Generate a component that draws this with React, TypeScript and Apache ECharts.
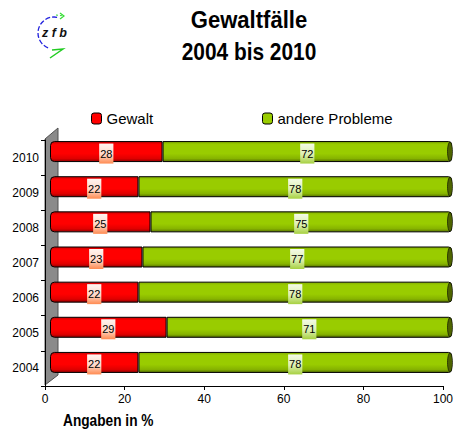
import React, { useEffect, useRef } from 'react';
import * as echarts from 'echarts';

const years = ['2004', '2005', '2006', '2007', '2008', '2009', '2010'];
const gewalt = [22, 29, 22, 23, 25, 22, 28];
const andere = [78, 71, 78, 77, 75, 78, 72];
const seriesNames = ['Gewalt', 'andere Probleme'];
const titleLines = ['Gewaltfälle', '2004 bis 2010'];
const axisName = 'Angaben in %';
const logoText = 'z f b';

export default function App() {
  const ref = useRef<HTMLDivElement>(null);
  useEffect(() => {
    const chart = echarts.init(ref.current!, null, { renderer: 'svg' });
    const LG = echarts.graphic.LinearGradient;
    const sans = "'Liberation Sans', Arial, sans-serif";

    const redGrad = new LG(0, 0, 0, 1, [
      { offset: 0, color: '#c80000' },
      { offset: 0.15, color: '#ff0000' },
      { offset: 0.6, color: '#ff0000' },
      { offset: 0.85, color: '#e00000' },
      { offset: 1, color: '#900000' },
    ]);
    const greenGrad = new LG(0, 0, 0, 1, [
      { offset: 0, color: '#82ad00' },
      { offset: 0.15, color: '#99cc00' },
      { offset: 0.6, color: '#99cc00' },
      { offset: 0.85, color: '#86b300' },
      { offset: 1, color: '#556f00' },
    ]);
    const redLabelBg = new LG(0, 0, 0, 1, [
      { offset: 0, color: '#fff4f0' },
      { offset: 0.55, color: '#ffd8c8' },
      { offset: 1, color: '#ff8a50' },
    ]);
    const greenLabelBg = new LG(0, 0, 0, 1, [
      { offset: 0, color: '#f4fbe8' },
      { offset: 0.55, color: '#dcefb0' },
      { offset: 1, color: '#a6d040' },
    ]);

    const labelCommon = {
      show: true,
      position: 'inside',
      formatter: '{c}',
      fontSize: 11,
      fontFamily: sans,
      color: '#000',
      padding: [5, 1, 4, 1],
      offset: [0, 2],
    };

    const option = {
      animation: false,
      legend: [
        {
          data: [{ name: seriesNames[0], itemStyle: { color: '#ff0000', borderColor: '#000', borderWidth: 1 } }],
          left: 86, top: 106, itemWidth: 10, itemHeight: 11, itemGap: 4, selectedMode: false,
          textStyle: { fontSize: 15, color: '#000', fontFamily: sans },
        },
        {
          data: [{ name: seriesNames[1], itemStyle: { color: '#99cc00', borderColor: '#000', borderWidth: 1 } }],
          left: 257, top: 106, itemWidth: 10, itemHeight: 11, itemGap: 4, selectedMode: false,
          textStyle: { fontSize: 15, color: '#000', fontFamily: sans },
        },
      ],
      grid: [
        { left: 45, top: 140, width: 402, height: 246 },
        { left: 50, top: 134, width: 402, height: 246 },
      ],
      xAxis: [
        {
          type: 'value', gridIndex: 0, min: 0, max: 100, interval: 20,
          axisLine: { show: true, lineStyle: { color: '#000', width: 1 } },
          axisTick: { show: true, length: 4, lineStyle: { color: '#000' } },
          axisLabel: { fontSize: 12, color: '#000', margin: 7, fontFamily: sans },
          splitLine: { show: false },
        },
        { type: 'value', gridIndex: 1, min: 0, max: 100, show: false },
      ],
      yAxis: [
        {
          type: 'category', gridIndex: 0, data: years,
          axisLine: { show: true, lineStyle: { color: '#000', width: 1 } },
          axisTick: { show: true, length: 4, lineStyle: { color: '#000' } },
          axisLabel: { fontSize: 12, color: '#000', margin: 6, fontFamily: sans },
        },
        { type: 'category', gridIndex: 1, data: years, show: false },
      ],
      graphic: [
        {
          type: 'text', x: 249, y: 20, scaleX: 0.92,
          style: { text: titleLines[0], fontSize: 24, fontWeight: 'bold', fill: '#000', fontFamily: sans, align: 'center', verticalAlign: 'middle' },
        },
        {
          type: 'text', x: 249, y: 52, scaleX: 0.87,
          style: { text: titleLines[1], fontSize: 24, fontWeight: 'bold', fill: '#000', fontFamily: sans, align: 'center', verticalAlign: 'middle' },
        },
        {
          type: 'polygon', z: 0,
          shape: { points: [[45, 139], [58, 128], [58, 375], [45, 385]] },
          style: { fill: '#8a8a8a', stroke: '#505050', lineWidth: 1 },
        },
        {
          type: 'text', x: 63, y: 420, scaleX: 0.83,
          style: { text: axisName, fontSize: 16.5, fontWeight: 'bold', fill: '#000', fontFamily: sans, verticalAlign: 'middle' },
        },
        {
          type: 'arc',
          shape: { cx: 54, cy: 33, r: 16, startAngle: 1.95, endAngle: 4.95, clockwise: true },
          style: { stroke: '#2222dd', lineWidth: 1.3, fill: 'none', lineDash: [5, 2] },
        },
        {
          type: 'polyline',
          shape: { points: [[56, 15], [64, 16]] },
          style: { stroke: '#33dd33', lineWidth: 1.2, lineDash: [2, 2] },
        },
        {
          type: 'polyline',
          shape: { points: [[60, 13], [64, 16], [60, 19]] },
          style: { stroke: '#33dd33', lineWidth: 1.2, fill: 'none' },
        },
        {
          type: 'polyline',
          shape: { points: [[52, 50], [63, 49], [50, 58]] },
          style: { stroke: '#22cc22', lineWidth: 1.5, fill: 'none' },
        },
        {
          type: 'text', x: 42, y: 26,
          style: { text: logoText, fontSize: 12.5, fontStyle: 'italic', fontWeight: 'bold', fill: '#111', fontFamily: sans },
        },
      ],
      series: [
        {
          name: seriesNames[0], type: 'bar', stack: 'total', xAxisIndex: 1, yAxisIndex: 1,
          data: gewalt, barWidth: 21,
          itemStyle: { color: redGrad, borderColor: '#000', borderWidth: 1, borderRadius: [4, 0, 0, 4] },
          label: { ...labelCommon, backgroundColor: redLabelBg },
        },
        {
          name: seriesNames[1], type: 'bar', stack: 'total', xAxisIndex: 1, yAxisIndex: 1,
          data: andere, barWidth: 21,
          itemStyle: { color: greenGrad, borderColor: '#000', borderWidth: 1, borderRadius: [0, 3, 3, 0] },
          label: { ...labelCommon, backgroundColor: greenLabelBg },
        },
        {
          type: 'custom', xAxisIndex: 1, yAxisIndex: 1, silent: true, z: 3,
          data: years.map((_, i) => [gewalt[i] + andere[i], i]),
          renderItem: (_params: any, api: any) => {
            const p = api.coord([api.value(0), api.value(1)]);
            return {
              type: 'ellipse',
              shape: { cx: p[0] - 2, cy: p[1], rx: 2.5, ry: 9.5 },
              style: { fill: '#4e6400', stroke: '#000', lineWidth: 0.6 },
            };
          },
        },
      ],
    };
    chart.setOption(option as any);
    return () => chart.dispose();
  }, []);
  return <div ref={ref} style={{ position: 'absolute', left: 0, top: 0, width: 456, height: 431, background: '#fff' }} />;
}
